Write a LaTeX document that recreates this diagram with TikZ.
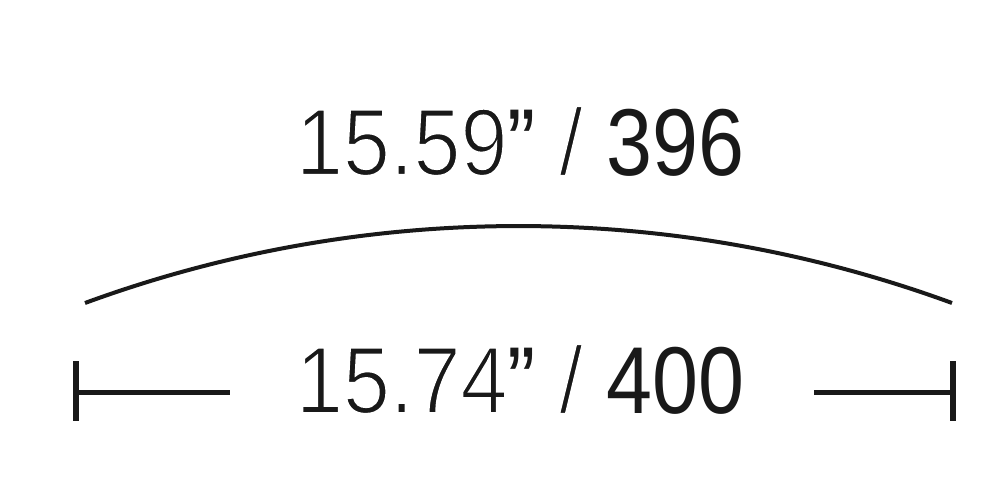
\documentclass[tikz,border=0pt]{standalone}
\usepackage{fontspec}
\setmainfont{Liberation Sans}[FakeStretch=0.89]
\newfontfamily\heavyf{Liberation Sans}[FakeStretch=0.87]
\newcommand{\thintext}[1]{\special{pdf:literal direct 2 Tr 1 1 1 RG 2.0 w}#1\special{pdf:literal direct 0 Tr 0.1 0.1 0.1 RG 1 w}}
\tikzset{
  dimtext/.style={inner sep=0pt, anchor=base, font=\fontsize{95}{100}\selectfont, text=black!90},
  dimline/.style={line width=5pt, draw=black!90},
  dimbar/.style={line width=6.5pt, draw=black!90},
  arcline/.style={line width=4pt, draw=black!90},
}
\begin{document}
\begin{tikzpicture}[x=1pt,y=-1pt]
\useasboundingbox (0,0) rectangle (1000,500);
\node[dimtext] (top) at (520,175) {\thintext{15.59}”\thintext{ /} {\heavyf 396}};
\node[dimtext] (bot) at (520,413) {\thintext{15.74}”\thintext{ /} {\heavyf 400}};
\coordinate (aL) at (85,303);
\coordinate (aR) at (952,303);
\draw[arcline] (aL) .. controls (365,200.4) and (672,200.4) .. (aR);
\coordinate (lT) at (76,361);
\coordinate (lB) at (76,421);
\coordinate (lM) at (76,392);
\coordinate (lE) at (230,392);
\coordinate (rT) at (953,361);
\coordinate (rB) at (953,421);
\coordinate (rM) at (953,392);
\coordinate (rS) at (814,392);
\draw[dimbar] (lT) -- (lB);
\draw[dimline] (lM) -- (lE);
\draw[dimbar] (rT) -- (rB);
\draw[dimline] (rS) -- (rM);
\end{tikzpicture}
\end{document}
